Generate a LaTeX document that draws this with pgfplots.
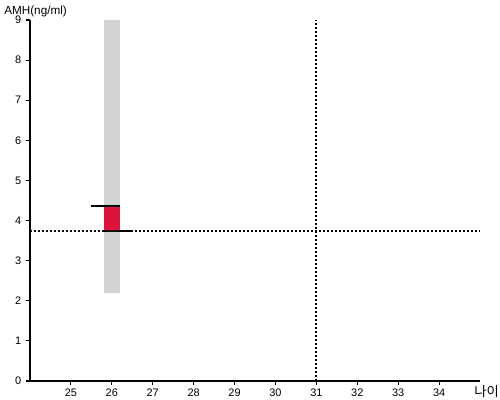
\documentclass[border=0pt]{standalone}
\usepackage{pgfplots}
\pgfplotsset{compat=1.18}
\usepackage{fontspec}
\setmainfont{Liberation Sans}
\newfontfamily\cjk{Noto Sans CJK KR}
\definecolor{bargray}{HTML}{D3D3D3}
\definecolor{barred}{HTML}{DC143C}
\begin{document}
\begin{tikzpicture}[x=0.75pt,y=0.75pt]
\begin{axis}[
  at={(0,0)}, anchor=south west,
  scale only axis,
  width=337.5pt, height=270.75pt,
  xmin=24, xmax=35, ymin=0, ymax=9,
  axis x line=bottom, axis y line=left,
  axis line style={-, line width=1pt, black},
  xtick={25,...,34}, ytick={0,...,9},
  tick style={black, line width=0.8pt},
  major tick length=3pt,
  tick align=outside,
  tick label style={font=\fontsize{8.2}{10}\selectfont},
  /pgf/number format/assume math mode=true,
  xticklabel style={yshift=1pt},
  clip=false,
]
\addplot[fill=bargray, draw=none] coordinates {(25.8,2.2) (26.2,2.2) (26.2,9) (25.8,9)} -- cycle;
\addplot[fill=barred, draw=none] coordinates {(25.8,3.75) (26.2,3.75) (26.2,4.36) (25.8,4.36)} -- cycle;
\addplot[black, line width=1.5pt] coordinates {(24,3.75) (35,3.75)};
\addplot[white, line width=1.6pt, dash pattern=on 1.5pt off 1.5pt, dash phase=1.5pt] coordinates {(24,3.75) (25.78,3.75)};
\addplot[white, line width=1.6pt, dash pattern=on 1.5pt off 1.5pt, dash phase=1.5pt] coordinates {(26.46,3.75) (35,3.75)};
\addplot[black, line width=1.5pt] coordinates {(25.49,4.36) (26.2,4.36)};
\addplot[black, line width=1.5pt, dash pattern=on 1.5pt off 1.5pt] coordinates {(31,0) (31,9)};
\end{axis}
\node[anchor=west, inner sep=0pt, font=\fontsize{8.8}{10}\selectfont] at (-26,370) {AMH(ng/ml)};
\node[anchor=west, inner sep=0pt, font=\cjk\fontsize{10}{12}\selectfont] at (444,-11) {나이};
\pgfresetboundingbox
\path[use as bounding box] (-30,-19) rectangle (470,381);
\end{tikzpicture}
\end{document}
